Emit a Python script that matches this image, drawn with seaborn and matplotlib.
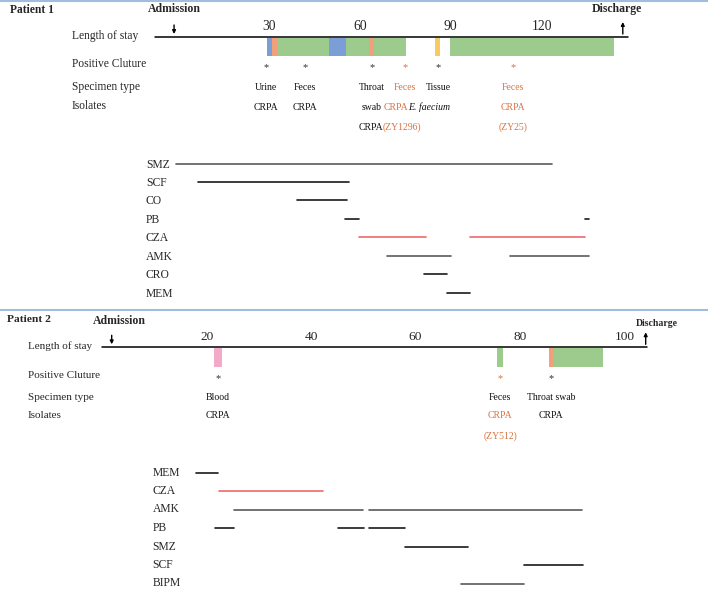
import pandas as pd
import numpy as np
import seaborn as sns
import matplotlib.pyplot as plt

# ---------------- Patient 1 data (days) ----------------
p1_ticks = [30, 60, 90, 120]
p1_stay = (-7.6, 148.5)
p1_admission = -1.3
p1_discharge = 146.8

p1_bar_start = [29.5, 31.1, 32.7, 49.8, 55.4, 63.0, 64.7, 84.8, 89.8]
p1_bar_end = [31.1, 32.7, 49.8, 55.4, 63.0, 64.7, 75.2, 86.5, 143.9]
p1_bar_color = ['#7B9ED6', '#F2A07C', '#9DCB8E', '#7B9ED6', '#9DCB8E',
                '#F2A07C', '#9DCB8E', '#F7CA62', '#9DCB8E']

p1_culture_day = [29, 42, 64, 75, 86, 110.5]
p1_culture_color = ['k', 'k', 'k', 'o', 'k', 'o']

# (day, row, text, colour, italic, align)
p1_notes = [
    (29, 1, 'Urine', 'k', False, 'center'),
    (29, 2, 'CRPA', 'k', False, 'center'),
    (42, 1, 'Feces', 'k', False, 'center'),
    (42, 2, 'CRPA', 'k', False, 'center'),
    (64, 1, 'Throat', 'k', False, 'center'),
    (64, 2, 'swab', 'k', False, 'center'),
    (67.6, 3, 'CRPA', 'k', False, 'right'),
    (67.6, 3, '(ZY1296)', 'o', False, 'left'),
    (75, 1, 'Feces', 'o', False, 'center'),
    (75.9, 2, 'CRPA', 'o', False, 'right'),
    (75.9, 2, 'E. faecium', 'k', True, 'left'),
    (86, 1, 'Tissue', 'k', False, 'center'),
    (110.5, 1, 'Feces', 'o', False, 'center'),
    (110.5, 2, 'CRPA', 'o', False, 'center'),
    (110.5, 3, '(ZY25)', 'o', False, 'center'),
]

p1_drugs = ['SMZ', 'SCF', 'CO', 'PB', 'CZA', 'AMK', 'CRO', 'MEM']
p1_seg_drug = ['SMZ', 'SCF', 'CO', 'PB', 'PB', 'CZA', 'CZA', 'AMK', 'AMK', 'CRO', 'MEM']
p1_seg_start = [-0.7, 6.7, 39.2, 55.1, 134.4, 59.8, 96.4, 68.9, 109.6, 81.3, 88.9]
p1_seg_end = [123.3, 56.4, 55.7, 59.8, 135.7, 81.8, 134.4, 90.1, 135.7, 88.9, 96.4]
p1_seg_kind = ['gray', 'dark', 'dark', 'dark', 'dark', 'red', 'red', 'gray', 'gray', 'dark', 'dark']

# ---------------- Patient 2 data (days) ----------------
p2_ticks = [20, 40, 60, 80, 100]
p2_stay = (-0.1, 104.4)
p2_admission = 1.8
p2_discharge = 104.1

p2_bar_start = [21.4, 75.6, 85.6, 86.5]
p2_bar_end = [22.9, 76.8, 86.5, 95.9]
p2_bar_color = ['#F4A9C8', '#9DCB8E', '#F2A07C', '#9DCB8E']

p2_culture_day = [22.1, 76.2, 86.0]
p2_culture_color = ['k', 'o', 'k']

p2_notes = [
    (22.1, 1, 'Blood', 'k', False, 'center'),
    (22.1, 2, 'CRPA', 'k', False, 'center'),
    (76.2, 1, 'Feces', 'k', False, 'center'),
    (76.2, 2, 'CRPA', 'o', False, 'center'),
    (76.2, 3, '(ZY512)', 'o', False, 'center'),
    (86.0, 1, 'Throat swab', 'k', False, 'center'),
    (86.0, 2, 'CRPA', 'k', False, 'center'),
]

p2_drugs = ['MEM', 'CZA', 'AMK', 'PB', 'SMZ', 'SCF', 'BIPM']
p2_seg_drug = ['MEM', 'CZA', 'AMK', 'AMK', 'PB', 'PB', 'PB', 'SMZ', 'SCF', 'BIPM']
p2_seg_start = [17.9, 22.4, 25.2, 51.1, 21.6, 45.2, 51.1, 58.0, 80.8, 68.7]
p2_seg_end = [22.2, 42.3, 50.0, 91.9, 25.2, 50.1, 57.9, 70.0, 92.0, 80.7]
p2_seg_kind = ['dark', 'red', 'gray', 'gray', 'dark', 'dark', 'dark', 'dark', 'dark', 'gray']

row_labels = ['Length of stay', 'Positive Cluture', 'Specimen type', 'Isolates']

# ---------------- style ----------------
sns.set_style('white')
plt.rcParams['font.family'] = ['Liberation Serif', 'DejaVu Serif']
ORANGE = '#D9733F'
palette = {'dark': '#1a1a1a', 'gray': '#5a5a5a', 'red': '#F06A6A'}
col = lambda c: ORANGE if c == 'o' else '#111111'

W, H = 708, 589
fig = plt.figure(figsize=(W / 100, H / 100), dpi=100)


def arrow(ax, x, y_from, y_to):
    ax.annotate('', xy=(x, y_to), xytext=(x, y_from),
                arrowprops=dict(arrowstyle='-|>', color='k', lw=1.0,
                                mutation_scale=5, shrinkA=0, shrinkB=0))


def panel(ax, ticks, stay, adm, dis, bs, be, bc, cday, ccol, notes,
          drugs, sdrug, sstart, send, skind, lay):
    ax.set_axis_off()
    # timeline
    ax.plot(stay, [lay['line'], lay['line']], color='k', lw=1.1)
    for t in ticks:
        ax.text(t, lay['tick'], str(t), ha='center', va='center', fontsize=lay['tfs'])
    arrow(ax, adm, lay['line'] - 12, lay['line'] - 3)
    arrow(ax, dis, lay['line'] - 3, lay['line'] - 15)
    # stays on ward, coloured
    ax.barh([lay['bar']] * len(bs), np.array(be) - np.array(bs), left=bs,
            height=lay['barh'], color=bc, linewidth=0)
    # positive cultures
    for d, c in zip(cday, ccol):
        ax.text(d, lay['rows'][0] + 3, '*', ha='center', va='center', fontsize=7.5,
                color=ORANGE if c == 'o' else '#333333')
    for d, r, t, c, it, ha in notes:
        ax.text(d, lay['rows'][r], t, ha=ha, va='center', fontsize=7,
                color=col(c), style='italic' if it else 'normal')
    # row labels
    tr = ax.get_yaxis_transform()
    ax.text(lay['lx'] / W, lay['line'] - 1, row_labels[0], transform=tr,
            ha='left', va='center', fontsize=lay['lfs'])
    for lbl, y in zip(row_labels[1:], lay['rows']):
        ax.text(lay['lx'] / W, y - 1, lbl, transform=tr, ha='left', va='center',
                fontsize=lay['lfs'])
    # antibiotics
    ypos = {d: lay['d0'] + lay['dstep'] * i for i, d in enumerate(drugs)}
    for d in drugs:
        ax.text(lay['dx'] / W, ypos[d] + lay['doff'], d, transform=tr, ha='left',
                va='center', fontsize=8.4)
    segs = pd.DataFrame({'drug': sdrug, 'start': sstart, 'end': send, 'kind': skind})
    segs['seg'] = range(len(segs))
    long = segs.melt(id_vars=['drug', 'seg', 'kind'], value_vars=['start', 'end'],
                     value_name='day')
    long['y'] = long['drug'].map(ypos)
    sns.lineplot(data=long, x='day', y='y', units='seg', estimator=None, hue='kind',
                 palette=palette, legend=False, lw=1.2, ax=ax)
    ax.set_axis_off()


# Patient 1 panel: pixel rows 0..309, 178 px at day 0, 3.03 px/day
ax1 = fig.add_axes([0, 1 - 309 / H, 1, 309 / H])
ax1.set_xlim(-178 / 3.03, (W - 178) / 3.03)
ax1.set_ylim(309, 0)
panel(ax1, p1_ticks, p1_stay, p1_admission, p1_discharge,
      p1_bar_start, p1_bar_end, p1_bar_color, p1_culture_day, p1_culture_color,
      p1_notes, p1_drugs, p1_seg_drug, p1_seg_start, p1_seg_end, p1_seg_kind,
      dict(line=37, tick=26.5, tfs=9.8, bar=47.2, barh=18, rows=[65, 88, 107, 127],
           lx=72, lfs=8.3, d0=163.5, dstep=18.43, dx=146, doff=1))
ax1.text(10 / W, 10, 'Patient 1', transform=ax1.get_yaxis_transform(),
         fontsize=8.3, fontweight='bold', va='center')
ax1.text(174 / W, 9, 'Admission', transform=ax1.get_yaxis_transform(),
         fontsize=8.5, fontweight='bold', va='center', ha='center')
ax1.text(617 / W, 9, 'Discharge', transform=ax1.get_yaxis_transform(),
         fontsize=8.5, fontweight='bold', va='center', ha='center')
ax1.axhline(1, color='#A3BCDD', lw=1.5)

# Patient 2 panel: pixel rows 309..589, 102.3 px at day 0, 5.22 px/day
ax2 = fig.add_axes([0, 0, 1, (H - 309) / H])
ax2.set_xlim(-102.3 / 5.22, (W - 102.3) / 5.22)
ax2.set_ylim(H, 309)
panel(ax2, p2_ticks, p2_stay, p2_admission, p2_discharge,
      p2_bar_start, p2_bar_end, p2_bar_color, p2_culture_day, p2_culture_color,
      p2_notes, p2_drugs, p2_seg_drug, p2_seg_start, p2_seg_end, p2_seg_kind,
      dict(line=347.3, tick=337.5, tfs=9.6, bar=357.2, barh=19, rows=[376, 398, 416, 436],
           lx=28, lfs=8.0, d0=472.5, dstep=18.5, dx=152.5, doff=0))
ax2.text(7 / W, 320, 'Patient 2', transform=ax2.get_yaxis_transform(),
         fontsize=8.2, fontweight='bold', va='center')
ax2.text(119 / W, 321, 'Admission', transform=ax2.get_yaxis_transform(),
         fontsize=8.5, fontweight='bold', va='center', ha='center')
ax2.text(657 / W, 324, 'Discharge', transform=ax2.get_yaxis_transform(),
         fontsize=7, fontweight='bold', va='center', ha='center')
ax2.axhline(309.5, color='#A3BCDD', lw=1.5, clip_on=False)

fig.savefig('out.png', dpi=100)
